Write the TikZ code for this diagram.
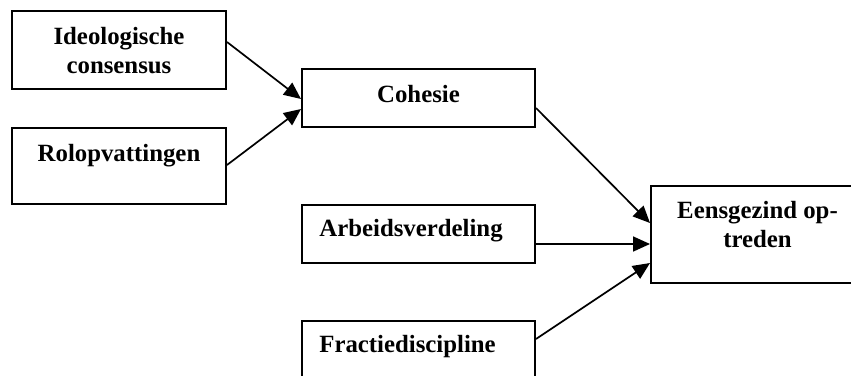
\documentclass[tikz,border=0pt]{standalone}
\usepackage{fontspec}
\setmainfont{Liberation Serif}
\usetikzlibrary{arrows.meta}

\tikzset{
    kader/.style={draw, line width=1pt, inner sep=0pt},
    tekst/.style={font=\bfseries\fontsize{12.4}{14.5}\selectfont, align=center, inner sep=0pt},
    pijl/.style={line width=0.85pt, -{Triangle[length=8.5pt,width=7.5pt]}}
}

\begin{document}
\begin{tikzpicture}[x=0.5pt, y=-0.5pt]
        % Picture frame
        \useasboundingbox (0,0) rectangle (851,375);
        \clip (0,0) rectangle (851,375);

        % Draw the boxes
        \node[kader, minimum width=107pt, minimum height=39pt] (ideologie) at (119,50) {};
        \node[kader, minimum width=107pt, minimum height=38pt] (rol) at (119,166) {};
        \node[kader, minimum width=116.5pt, minimum height=29pt] (cohesie) at (418.5,98) {};
        \node[kader, minimum width=116.5pt, minimum height=29pt] (arbeid) at (418.5,234) {};
        \node[kader, minimum width=116.5pt, minimum height=29pt] (discipline) at (418.5,350) {};
        \node[kader, minimum width=106.5pt, minimum height=48.5pt] (eensgezind) at (757.5,234.5) {};

        % Add the texts (base of a two-line text is its last line)
        \node[tekst, anchor=base] (ideologieT) at ([yshift=-31.5pt]ideologie.north) {Ideologische\\consensus};
        \node[tekst, anchor=base] (rolT) at ([yshift=-17pt]rol.north) {Rolopvattingen};
        \node[tekst, anchor=base] (cohesieT) at ([yshift=-17pt]cohesie.north) {Cohesie};
        \node[tekst, anchor=base west] (arbeidT) at ([xshift=9pt, yshift=-16pt]arbeid.north west) {Arbeidsverdeling};
        \node[tekst, anchor=base west] (disciplineT) at ([xshift=9pt, yshift=-16pt]discipline.north west) {Fractiediscipline};
        \node[tekst, anchor=base] (eensgezindT) at ([yshift=-31pt]eensgezind.north) {Eensgezind op-\\treden};

        % Draw the arrows
        \draw[pijl] ([yshift=4pt]ideologie.east) -- ([yshift=-0.5pt]cohesie.west);
        \draw[pijl] ([yshift=0.5pt]rol.east) -- ([yshift=-5.5pt]cohesie.west);
        \draw[pijl] ([yshift=-5pt]cohesie.east) -- ([yshift=5.75pt]eensgezind.west);
        \draw[pijl] ([yshift=-5pt]arbeid.east) -- ([yshift=-4.75pt]eensgezind.west);
        \draw[pijl] ([yshift=5.5pt]discipline.east) -- ([yshift=-14.25pt]eensgezind.west);
    \end{tikzpicture}
\end{document}
